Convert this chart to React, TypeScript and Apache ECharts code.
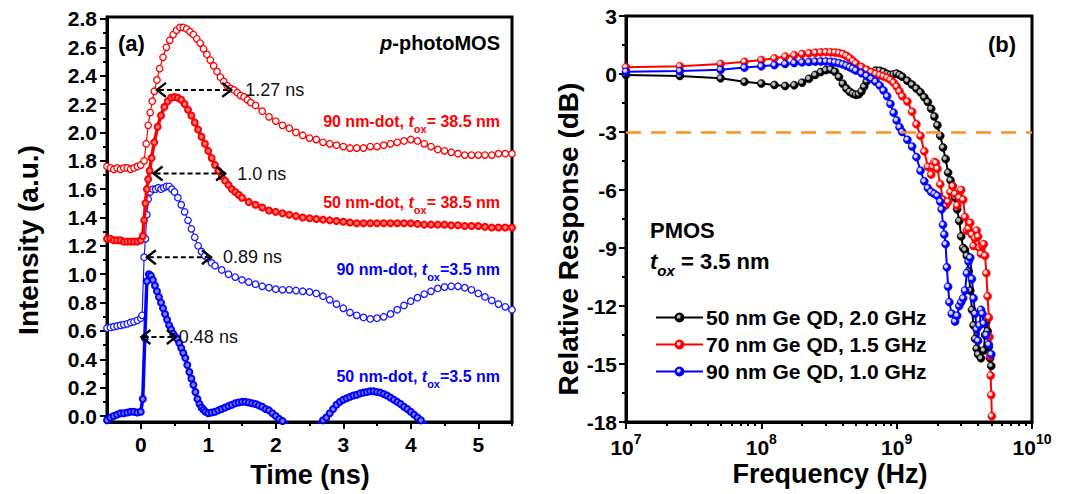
import React, { useEffect, useRef } from "react";
import * as echarts from "echarts";

const FONT = '"Liberation Sans", Arial, Helvetica, sans-serif';

// ---------- Panel (a): time-resolved intensity ----------
const timeTicks = [0, 1, 2, 3, 4, 5];
const timeMinorTicks = [0.5, 1.5, 2.5, 3.5, 4.5, 5.5];
const intensityTicks = [0, 0.2, 0.4, 0.6, 0.8, 1.0, 1.2, 1.4, 1.6, 1.8, 2.0, 2.2, 2.4, 2.6, 2.8];
const intensityMinorTicks = [0.1, 0.3, 0.5, 0.7, 0.9, 1.1, 1.3, 1.5, 1.7, 1.9, 2.1, 2.3, 2.5, 2.7];

const dot90Ox385: [number, number][] = [
  [-0.5, 1.76], [-0.45, 1.75], [-0.4, 1.74], [-0.35, 1.75], [-0.3, 1.74], [-0.25, 1.75], [-0.2, 1.75],
  [-0.15, 1.74], [-0.1, 1.75], [-0.05, 1.76], [0, 1.77], [0.05, 1.8], [0.08, 1.92], [0.11, 2.05],
  [0.14, 2.14], [0.17, 2.22], [0.2, 2.29], [0.24, 2.37], [0.28, 2.45], [0.33, 2.53], [0.38, 2.6],
  [0.43, 2.65], [0.48, 2.69], [0.53, 2.72], [0.58, 2.74], [0.63, 2.74], [0.68, 2.73], [0.73, 2.71],
  [0.78, 2.69], [0.83, 2.66], [0.88, 2.63], [0.93, 2.59], [0.98, 2.55], [1.03, 2.51], [1.08, 2.47],
  [1.13, 2.43], [1.18, 2.39], [1.23, 2.36], [1.28, 2.33], [1.33, 2.31], [1.38, 2.3], [1.43, 2.28],
  [1.48, 2.26], [1.53, 2.25], [1.58, 2.23], [1.63, 2.21], [1.7, 2.19], [1.8, 2.15], [1.9, 2.11],
  [2.0, 2.08], [2.1, 2.05], [2.2, 2.03], [2.3, 2.0], [2.4, 1.98], [2.5, 1.96], [2.6, 1.95], [2.7, 1.93],
  [2.8, 1.92], [2.9, 1.91], [3.0, 1.9], [3.1, 1.89], [3.2, 1.89], [3.3, 1.89], [3.4, 1.9], [3.5, 1.9],
  [3.6, 1.91], [3.7, 1.92], [3.8, 1.93], [3.9, 1.94], [4.0, 1.95], [4.1, 1.94], [4.2, 1.92], [4.3, 1.9],
  [4.4, 1.88], [4.5, 1.87], [4.6, 1.86], [4.7, 1.85], [4.8, 1.84], [4.9, 1.84], [5.0, 1.84], [5.1, 1.84],
  [5.2, 1.84], [5.3, 1.85], [5.4, 1.85], [5.5, 1.85],
];

const dot50Ox385: [number, number][] = [
  [-0.5, 1.25], [-0.45, 1.25], [-0.4, 1.24], [-0.35, 1.24], [-0.3, 1.24], [-0.25, 1.23], [-0.2, 1.23],
  [-0.15, 1.23], [-0.1, 1.23], [-0.05, 1.23], [0, 1.24], [0.03, 1.27], [0.05, 1.38], [0.07, 1.5],
  [0.09, 1.6], [0.11, 1.67], [0.13, 1.73], [0.16, 1.82], [0.2, 1.93], [0.25, 2.04], [0.3, 2.12],
  [0.35, 2.18], [0.4, 2.22], [0.45, 2.245], [0.5, 2.25], [0.55, 2.245], [0.6, 2.23], [0.65, 2.2],
  [0.7, 2.16], [0.75, 2.12], [0.8, 2.07], [0.85, 2.02], [0.9, 1.97], [0.95, 1.92], [1.0, 1.87],
  [1.05, 1.82], [1.1, 1.77], [1.15, 1.73], [1.2, 1.69], [1.25, 1.66], [1.3, 1.63], [1.35, 1.6],
  [1.4, 1.58], [1.45, 1.56], [1.5, 1.54], [1.6, 1.51], [1.7, 1.49], [1.8, 1.47], [1.9, 1.45], [2.0, 1.44],
  [2.1, 1.43], [2.2, 1.42], [2.3, 1.41], [2.4, 1.4], [2.5, 1.395], [2.6, 1.39], [2.7, 1.385], [2.8, 1.38],
  [2.9, 1.375], [3.0, 1.37], [3.1, 1.365], [3.2, 1.36], [3.3, 1.36], [3.4, 1.36], [3.5, 1.36], [3.6, 1.36],
  [3.7, 1.36], [3.8, 1.36], [3.9, 1.36], [4.0, 1.36], [4.1, 1.355], [4.2, 1.35], [4.3, 1.35], [4.4, 1.35],
  [4.5, 1.35], [4.6, 1.345], [4.7, 1.345], [4.8, 1.34], [4.9, 1.34], [5.0, 1.34], [5.1, 1.335], [5.2, 1.33],
  [5.3, 1.33], [5.4, 1.33], [5.5, 1.33],
];

const dot90Ox35: [number, number][] = [
  [-0.5, 0.62], [-0.45, 0.625], [-0.4, 0.63], [-0.35, 0.635], [-0.3, 0.64], [-0.25, 0.645], [-0.2, 0.65],
  [-0.15, 0.66], [-0.1, 0.665], [-0.05, 0.675], [0, 0.69], [0.02, 0.71], [0.05, 1.12], [0.07, 1.25],
  [0.09, 1.42], [0.11, 1.53], [0.14, 1.58], [0.18, 1.6], [0.22, 1.6], [0.26, 1.61], [0.3, 1.6], [0.34, 1.61],
  [0.38, 1.62], [0.42, 1.62], [0.46, 1.6], [0.5, 1.58], [0.55, 1.54], [0.6, 1.49], [0.65, 1.44], [0.7, 1.38],
  [0.75, 1.32], [0.8, 1.26], [0.85, 1.2], [0.9, 1.16], [0.95, 1.13], [1.0, 1.11], [1.05, 1.08], [1.1, 1.06],
  [1.2, 1.03], [1.3, 1.0], [1.4, 0.98], [1.5, 0.96], [1.6, 0.945], [1.7, 0.93], [1.8, 0.915], [1.9, 0.905],
  [2.0, 0.895], [2.1, 0.89], [2.2, 0.89], [2.3, 0.885], [2.4, 0.88], [2.5, 0.875], [2.6, 0.865], [2.7, 0.845],
  [2.8, 0.82], [2.9, 0.79], [3.0, 0.76], [3.1, 0.73], [3.2, 0.71], [3.3, 0.695], [3.4, 0.685], [3.5, 0.69],
  [3.6, 0.7], [3.7, 0.72], [3.8, 0.75], [3.9, 0.78], [4.0, 0.81], [4.1, 0.835], [4.2, 0.86], [4.3, 0.88],
  [4.4, 0.9], [4.5, 0.91], [4.6, 0.915], [4.7, 0.915], [4.8, 0.905], [4.9, 0.89], [5.0, 0.865], [5.1, 0.84],
  [5.2, 0.815], [5.3, 0.79], [5.4, 0.77], [5.5, 0.75],
];

const dot50Ox35: [number, number][] = [
  [-0.5, -0.03], [-0.45, -0.01], [-0.4, 0.0], [-0.35, 0.01], [-0.3, 0.02], [-0.25, 0.02], [-0.2, 0.025],
  [-0.15, 0.03], [-0.1, 0.03], [-0.05, 0.025], [0, 0.03], [0.03, 0.12], [0.06, 0.55], [0.09, 0.95],
  [0.12, 1.0], [0.15, 0.99], [0.18, 0.96], [0.21, 0.92], [0.24, 0.88], [0.27, 0.84], [0.3, 0.8],
  [0.33, 0.76], [0.36, 0.72], [0.39, 0.68], [0.42, 0.64], [0.45, 0.61], [0.48, 0.58], [0.51, 0.56],
  [0.54, 0.545], [0.57, 0.515], [0.6, 0.48], [0.63, 0.445], [0.66, 0.41], [0.69, 0.36], [0.72, 0.31],
  [0.75, 0.265], [0.78, 0.22], [0.81, 0.17], [0.84, 0.12], [0.87, 0.085], [0.9, 0.06], [0.93, 0.045],
  [0.96, 0.03], [1.0, 0.02], [1.05, 0.025], [1.1, 0.03], [1.15, 0.04], [1.2, 0.05], [1.25, 0.06], [1.3, 0.07],
  [1.35, 0.08], [1.4, 0.09], [1.45, 0.095], [1.5, 0.1], [1.55, 0.1], [1.6, 0.095], [1.65, 0.09], [1.7, 0.085],
  [1.75, 0.075], [1.8, 0.065], [1.85, 0.05], [1.9, 0.04], [1.95, 0.02], [2.0, 0.0], [2.05, -0.02],
  [2.1, -0.035], [2.15, -0.05], [2.2, -0.07], [2.4, -0.12], [2.6, -0.07], [2.65, -0.05], [2.7, -0.03],
  [2.75, -0.01], [2.8, 0.02], [2.85, 0.05], [2.9, 0.08], [2.95, 0.1], [3.0, 0.115], [3.05, 0.125], [3.1, 0.135],
  [3.15, 0.145], [3.2, 0.15], [3.25, 0.16], [3.3, 0.165], [3.35, 0.17], [3.4, 0.175], [3.45, 0.175], [3.5, 0.17],
  [3.55, 0.165], [3.6, 0.155], [3.65, 0.145], [3.7, 0.13], [3.75, 0.115], [3.8, 0.1], [3.85, 0.085], [3.9, 0.065],
  [3.95, 0.05], [4.0, 0.03], [4.05, 0.01], [4.1, -0.01], [4.15, -0.03], [4.2, -0.045], [4.3, -0.08], [4.5, -0.15],
];

// FWHM annotations (start time, end time, level, label)
const fwhmStart = [0.24, 0.19, 0.09, 0.01];
const fwhmEnd = [1.34, 1.25, 1.04, 0.52];
const fwhmLevel = [2.3, 1.71, 1.12, 0.557];
const fwhmLabels = ["1.27 ns", "1.0 ns", "0.89 ns", "0.48 ns"];
const fwhmLabelGapPx = [14, 12, 12, 3];

// ---------- Panel (b): frequency response ----------
const freqDecades = [1e7, 1e8, 1e9, 1e10];
const freqMinorMultipliers = [2, 3, 4, 5, 6, 7, 8, 9];

const qd50: [number, number][] = [
  [1e7, -0.05], [2.5e7, -0.1], [5e7, -0.22], [7.5e7, -0.4], [1e8, -0.49], [1.25e8, -0.57], [1.5e8, -0.62],
  [1.75e8, -0.58], [2e8, -0.45], [2.25e8, -0.25], [2.5e8, -0.05], [2.75e8, 0.1], [3e8, 0.2], [3.25e8, 0.24],
  [3.5e8, 0.12], [3.75e8, -0.15], [4e8, -0.5], [4.25e8, -0.75], [4.5e8, -0.92], [4.75e8, -1.02], [5e8, -1.08],
  [5.25e8, -1.05], [5.5e8, -0.9], [5.75e8, -0.65], [6e8, -0.38], [6.25e8, -0.15], [6.5e8, 0.02], [7e8, 0.18],
  [7.5e8, 0.17], [8e8, 0.1], [8.5e8, 0.0], [9e8, -0.05], [9.5e8, -0.02], [1e9, 0.02], [1.05e9, -0.05],
  [1.1e9, -0.14], [1.2e9, -0.35], [1.3e9, -0.55], [1.4e9, -0.75], [1.5e9, -0.95], [1.6e9, -1.2], [1.7e9, -1.45],
  [1.8e9, -1.8], [1.9e9, -2.2], [2.0e9, -2.65], [2.1e9, -3.2], [2.2e9, -3.8], [2.3e9, -4.4], [2.4e9, -5.1],
  [2.5e9, -5.5], [2.6e9, -5.8], [2.7e9, -6.4], [2.8e9, -7.0], [2.9e9, -7.6], [3.0e9, -8.4], [3.1e9, -9.0],
  [3.2e9, -9.1], [3.3e9, -9.4], [3.4e9, -10.2], [3.5e9, -11.2], [3.6e9, -12.2], [3.7e9, -13.0], [3.8e9, -13.7],
  [3.9e9, -14.2], [4.0e9, -14.5], [4.2e9, -14.7], [4.4e9, -14.3], [4.5e9, -13.5], [4.6e9, -12.8], [4.7e9, -13.3],
  [4.8e9, -14.1], [4.9e9, -14.7], [5.0e9, -15.1],
];

const qd70: [number, number][] = [
  [1e7, 0.35], [2.5e7, 0.4], [5e7, 0.52], [7.5e7, 0.63], [1e8, 0.72], [1.25e8, 0.81], [1.5e8, 0.9],
  [1.75e8, 0.97], [2e8, 1.03], [2.25e8, 1.07], [2.5e8, 1.1], [2.75e8, 1.12], [3e8, 1.13], [3.25e8, 1.12],
  [3.5e8, 1.11], [3.75e8, 1.08], [4e8, 1.03], [4.25e8, 0.94], [4.5e8, 0.82], [4.75e8, 0.68], [5e8, 0.55],
  [5.5e8, 0.36], [6e8, 0.22], [6.5e8, 0.1], [7e8, 0.0], [7.5e8, -0.07], [8e8, -0.13], [8.5e8, -0.2],
  [9e8, -0.3], [9.5e8, -0.45], [1e9, -0.65], [1.05e9, -0.9], [1.1e9, -1.15], [1.2e9, -1.42], [1.3e9, -1.95],
  [1.4e9, -2.6], [1.5e9, -3.2], [1.6e9, -4.0], [1.7e9, -4.8], [1.8e9, -5.2], [1.85e9, -4.8], [1.9e9, -4.55],
  [1.95e9, -4.6], [2.0e9, -4.9], [2.1e9, -5.7], [2.2e9, -6.5], [2.3e9, -6.8], [2.4e9, -6.6], [2.5e9, -6.1],
  [2.6e9, -5.8], [2.7e9, -6.2], [2.8e9, -6.8], [2.9e9, -6.4], [3.0e9, -6.0], [3.1e9, -6.5], [3.2e9, -7.4],
  [3.3e9, -8.1], [3.4e9, -8.0], [3.5e9, -7.7], [3.6e9, -8.3], [3.7e9, -8.9], [3.8e9, -8.5], [3.9e9, -8.1],
  [4.0e9, -8.4], [4.1e9, -9.0], [4.2e9, -9.3], [4.3e9, -8.9], [4.4e9, -8.8], [4.5e9, -9.4], [4.6e9, -10.3],
  [4.7e9, -11.5], [4.8e9, -12.6], [4.85e9, -13.6], [4.9e9, -14.6], [4.95e9, -15.6], [5.0e9, -16.6],
  [5.05e9, -17.7],
];

const qd90: [number, number][] = [
  [1e7, 0.12], [2.5e7, 0.15], [5e7, 0.22], [7.5e7, 0.33], [1e8, 0.4], [1.25e8, 0.46], [1.5e8, 0.52],
  [1.75e8, 0.57], [2e8, 0.6], [2.25e8, 0.62], [2.5e8, 0.64], [2.75e8, 0.65], [3e8, 0.65], [3.25e8, 0.63],
  [3.5e8, 0.6], [3.75e8, 0.56], [4e8, 0.5], [4.25e8, 0.43], [4.5e8, 0.35], [4.75e8, 0.27], [5e8, 0.18],
  [5.5e8, 0.04], [6e8, -0.1], [6.5e8, -0.25], [7e8, -0.4], [7.5e8, -0.6], [8e8, -0.85], [8.5e8, -1.15],
  [9e8, -1.55], [9.5e8, -2.0], [1e9, -2.4], [1.05e9, -2.75], [1.1e9, -3.0], [1.2e9, -3.4], [1.3e9, -3.75],
  [1.4e9, -4.3], [1.5e9, -5.0], [1.6e9, -5.55], [1.7e9, -5.9], [1.8e9, -6.1], [1.9e9, -6.2], [2.0e9, -6.3],
  [2.1e9, -6.6], [2.15e9, -7.0], [2.2e9, -7.8], [2.25e9, -8.3], [2.3e9, -8.8], [2.35e9, -10.0], [2.4e9, -11.0],
  [2.45e9, -11.8], [2.55e9, -12.4], [2.7e9, -12.8], [2.8e9, -12.5], [2.9e9, -12.0], [3.0e9, -11.8],
  [3.1e9, -11.6], [3.2e9, -11.2], [3.3e9, -10.3], [3.4e9, -9.7], [3.5e9, -9.5], [3.6e9, -10.6], [3.7e9, -11.6],
  [3.8e9, -12.4], [3.9e9, -13.2], [4.0e9, -13.8], [4.1e9, -13.0], [4.2e9, -12.2], [4.3e9, -12.4], [4.4e9, -12.9],
  [4.6e9, -13.5], [4.8e9, -14.0], [5.0e9, -14.5],
];

const legendNames = ["50 nm Ge QD, 2.0 GHz", "70 nm Ge QD, 1.5 GHz", "90 nm Ge QD, 1.0 GHz"];

const RED = "#ff0000";
const BLUE = "#1a1aff";

function sphere(c: string, hl: string) {
  return new echarts.graphic.RadialGradient(0.38, 0.38, 0.62, [
    { offset: 0, color: hl },
    { offset: 0.28, color: hl },
    { offset: 0.55, color: c },
    { offset: 1, color: c },
  ]);
}

const axisLabelStyle = { color: "#000", fontWeight: "bold" as const, fontSize: 21, fontFamily: FONT };

function subText(x: number, y: number, pre: string, post: string, color: string, size: number, align: string) {
  return {
    type: "text",
    x,
    y,
    z: 100,
    style: {
      text: `{a|${pre}}{i|t}{s|ox}{a|${post}}`,
      align,
      textAlign: align,
      verticalAlign: "middle",
      textVerticalAlign: "middle",
      fill: color,
      rich: {
        a: { fontSize: size, fontWeight: "bold", fontFamily: FONT, fill: color, color, lineHeight: size + 10, verticalAlign: "middle" },
        i: { fontSize: size, fontWeight: "bold", fontStyle: "italic", fontFamily: FONT, fill: color, color, lineHeight: size + 10, verticalAlign: "middle" },
        s: { fontSize: Math.round(size * 0.68), fontWeight: "bold", fontFamily: FONT, fill: color, color, verticalAlign: "bottom" },
      },
    },
  };
}

function plainText(x: number, y: number, text: string, size: number, align: string, rotation = 0) {
  return {
    type: "text",
    x,
    y,
    rotation,
    z: 100,
    style: {
      text,
      align,
      textAlign: align,
      verticalAlign: "middle",
      textVerticalAlign: "middle",
      fill: "#000",
      fontSize: size,
      fontWeight: "bold",
      fontFamily: FONT,
    },
  };
}

export default function App() {
  const ref = useRef<HTMLDivElement>(null);

  useEffect(() => {
    if (!ref.current) return;
    const chart = echarts.init(ref.current, undefined, { renderer: "svg" });

    const minorFreqs: number[] = [];
    freqDecades.slice(0, 3).forEach((d) => freqMinorMultipliers.forEach((m) => minorFreqs.push(d * m)));

    const openLine = (name: string, data: [number, number][], color: string) => ({
      name,
      type: "line",
      xAxisIndex: 0,
      yAxisIndex: 0,
      data,
      symbol: "circle",
      symbolSize: 6.5,
      showAllSymbol: true,
      lineStyle: { color, width: 1.2 },
      itemStyle: { color: "#fff", borderColor: color, borderWidth: 1.3 },
      z: 3,
    });
    const thickLine = (name: string, data: [number, number][], color: string, fill: string) => ({
      name,
      type: "line",
      xAxisIndex: 0,
      yAxisIndex: 0,
      data,
      symbol: "circle",
      symbolSize: 6,
      showAllSymbol: true,
      lineStyle: { color, width: 3.5 },
      itemStyle: { color: fill, borderColor: color, borderWidth: 2 },
      z: 4,
    });
    const qdLine = (name: string, data: [number, number][], color: string, hl: string, extra: any = {}) => ({
      name,
      type: "line",
      xAxisIndex: 2,
      yAxisIndex: 2,
      data,
      symbol: "circle",
      symbolSize: 8,
      showAllSymbol: true,
      lineStyle: { color, width: 2 },
      itemStyle: { color: sphere(color, hl), borderColor: color, borderWidth: 0.6 },
      z: 3,
      ...extra,
    });

    const frameLine = { show: true, onZero: false, lineStyle: { color: "#000", width: 3 } };
    const noLine = { show: false, onZero: false };

    const option: any = {
      animation: false,
      backgroundColor: "#fff",
      grid: [
        { left: 107, top: 17, width: 405, height: 405, show: true, borderColor: "#000", borderWidth: 3, backgroundColor: "transparent" },
        { left: 626, top: 16, width: 406, height: 406, show: true, borderColor: "#000", borderWidth: 3, backgroundColor: "transparent" },
      ],
      xAxis: [
        {
          type: "value", gridIndex: 0, min: -0.5, max: 5.5,
          axisLine: frameLine,
          axisTick: { show: true, customValues: timeTicks, length: 7, lineStyle: { color: "#000", width: 2 } },
          axisLabel: { ...axisLabelStyle, customValues: timeTicks, margin: 12, formatter: (v: number) => String(v) },
          splitLine: { show: false },
        },
        {
          type: "value", gridIndex: 0, min: -0.5, max: 5.5, position: "bottom",
          axisLine: noLine,
          axisTick: { show: true, customValues: timeMinorTicks, length: 4, lineStyle: { color: "#000", width: 2 } },
          axisLabel: { show: false },
          splitLine: { show: false },
        },
        {
          type: "log", gridIndex: 1, min: 1e7, max: 1e10, logBase: 10,
          axisLine: frameLine,
          axisTick: { show: true, customValues: freqDecades, length: 7, lineStyle: { color: "#000", width: 2 } },
          axisLabel: {
            customValues: freqDecades,
            margin: 10,
            formatter: (v: number) => `{a|10}{b|${Math.round(Math.log10(v))}}`,
            rich: {
              a: { ...axisLabelStyle, lineHeight: 30, verticalAlign: "middle" },
              b: { color: "#000", fontWeight: "bold", fontSize: 14, fontFamily: FONT, verticalAlign: "top" },
            },
          },
          splitLine: { show: false },
          minorTick: { show: false },
        },
        {
          type: "log", gridIndex: 1, min: 1e7, max: 1e10, logBase: 10, position: "bottom",
          axisLine: noLine,
          axisTick: { show: true, customValues: minorFreqs, length: 4, lineStyle: { color: "#000", width: 2 } },
          axisLabel: { show: false },
          splitLine: { show: false },
        },
      ],
      yAxis: [
        {
          type: "value", gridIndex: 0, min: -0.042, max: 2.814,
          axisLine: frameLine,
          axisTick: { show: true, customValues: intensityTicks, length: 7, lineStyle: { color: "#000", width: 2 } },
          axisLabel: { ...axisLabelStyle, customValues: intensityTicks, margin: 10, formatter: (v: number) => v.toFixed(1) },
          splitLine: { show: false },
        },
        {
          type: "value", gridIndex: 0, min: -0.042, max: 2.814, position: "left",
          axisLine: noLine,
          axisTick: { show: true, customValues: intensityMinorTicks, length: 4, lineStyle: { color: "#000", width: 2 } },
          axisLabel: { show: false },
          splitLine: { show: false },
        },
        {
          type: "value", gridIndex: 1, min: -18, max: 3, interval: 3,
          axisLine: frameLine,
          axisTick: { show: true, length: 7, lineStyle: { color: "#000", width: 2 } },
          minorTick: { show: true, splitNumber: 2, length: 4, lineStyle: { color: "#000", width: 2 } },
          axisLabel: { ...axisLabelStyle, margin: 9, formatter: (v: number) => String(v) },
          splitLine: { show: false },
        },
      ],
      legend: {
        data: legendNames,
        orient: "vertical",
        left: 650,
        top: 302,
        itemWidth: 47,
        itemHeight: 10,
        itemGap: 6,
        textStyle: { color: "#000", fontSize: 21, fontWeight: "bold", fontFamily: FONT, padding: [0, 0, 0, -2] },
        selectedMode: false,
      },
      series: [
        thickLine("50 nm-dot, tox = 38.5 nm", dot50Ox385, RED, "#ff7a7a"),
        openLine("90 nm-dot, tox = 38.5 nm", dot90Ox385, RED),
        openLine("90 nm-dot, tox = 3.5 nm", dot90Ox35, BLUE),
        thickLine("50 nm-dot, tox = 3.5 nm", dot50Ox35, "#0000ff", "#8080ff"),
        {
          name: "FWHM",
          type: "custom",
          xAxisIndex: 0,
          yAxisIndex: 0,
          z: 10,
          encode: { x: [0, 1], y: 2 },
          data: fwhmStart.map((s, i) => [s, fwhmEnd[i], fwhmLevel[i]]),
          renderItem: (params: any, api: any) => {
            const y = api.value(2);
            const a = api.coord([api.value(0), y]);
            const b = api.coord([api.value(1), y]);
            const w = 9, h = 7;
            const st = { stroke: "#000", lineWidth: 2.4, fill: "none" };
            return {
              type: "group",
              children: [
                { type: "line", shape: { x1: a[0] + 2, y1: a[1], x2: b[0] - 2, y2: b[1] }, style: { stroke: "#000", lineWidth: 2, lineDash: [5, 3] } },
                { type: "polyline", shape: { points: [[a[0] + w, a[1] - h], [a[0], a[1]], [a[0] + w, a[1] + h]] }, style: st },
                { type: "polyline", shape: { points: [[b[0] - w, b[1] - h], [b[0], b[1]], [b[0] - w, b[1] + h]] }, style: st },
                {
                  type: "text",
                  style: {
                    text: fwhmLabels[params.dataIndex], x: b[0] + fwhmLabelGapPx[params.dataIndex], y: b[1],
                    fill: "#111", fontSize: 18, fontFamily: FONT, align: "left", verticalAlign: "middle",
                  },
                },
              ],
            };
          },
        },
        qdLine(legendNames[0], qd50, "#000000", "#bdbdbd"),
        qdLine(legendNames[1], qd70, RED, "#ffe0e0", {
          markLine: {
            silent: true,
            symbol: ["none", "none"],
            data: [{ yAxis: -3 }],
            label: { show: false },
            lineStyle: { color: "#f7931e", width: 2.5, type: [15, 10] },
          },
        }),
        qdLine(legendNames[2], qd90, "#0000ff", "#d8d8ff"),
      ],
      graphic: [
        plainText(118, 43, "(a)", 22, "left"),
        {
          type: "text", x: 500, y: 43, z: 100,
          style: {
            text: "{i|p}{a|-photoMOS}",
            align: "right", textAlign: "right", verticalAlign: "middle", textVerticalAlign: "middle",
            rich: {
              i: { fontSize: 20, fontWeight: "bold", fontStyle: "italic", fontFamily: FONT, fill: "#000" },
              a: { fontSize: 20, fontWeight: "bold", fontFamily: FONT, fill: "#000" },
            },
          },
        },
        subText(500, 121, "90 nm-dot, ", "= 38.5 nm", RED, 16, "right"),
        subText(500, 202, "50 nm-dot, ", "= 38.5 nm", RED, 16, "right"),
        subText(500, 269, "90 nm-dot, ", "=3.5 nm", "#0000ff", 16, "right"),
        subText(500, 376, "50 nm-dot, ", "=3.5 nm", "#0000ff", 16, "right"),
        plainText(988, 44, "(b)", 22, "left"),
        plainText(650, 230, "PMOS", 22, "left"),
        {
          type: "text", x: 650, y: 261, z: 100,
          style: {
            text: "{i|t}{s|ox}{a| = 3.5 nm}",
            align: "left", textAlign: "left", verticalAlign: "middle", textVerticalAlign: "middle",
            rich: {
              i: { fontSize: 22, fontWeight: "bold", fontStyle: "italic", fontFamily: FONT, fill: "#000", lineHeight: 34, verticalAlign: "middle" },
              s: { fontSize: 15, fontWeight: "bold", fontStyle: "italic", fontFamily: FONT, fill: "#000", verticalAlign: "bottom" },
              a: { fontSize: 22, fontWeight: "bold", fontFamily: FONT, fill: "#000", lineHeight: 34, verticalAlign: "middle" },
            },
          },
        },
        plainText(28, 240, "Intensity (a.u.)", 28, "center", Math.PI / 2),
        plainText(310, 475, "Time (ns)", 27, "center"),
        plainText(568, 239, "Relative Response (dB)", 28, "center", Math.PI / 2),
        plainText(830, 474, "Frequency (Hz)", 27, "center"),
      ],
    };

    chart.setOption(option);
    return () => chart.dispose();
  }, []);

  return (
    <div
      ref={ref}
      style={{ position: "absolute", left: 0, top: 0, width: 1079, height: 494, background: "#fff" }}
    />
  );
}
